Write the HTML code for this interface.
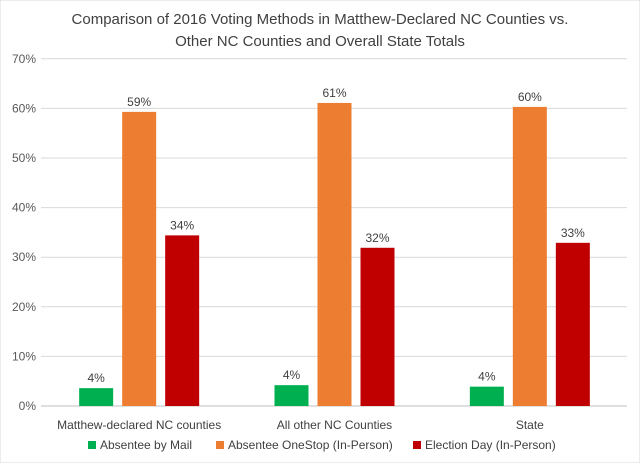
<!DOCTYPE html>
<html><head><meta charset="utf-8"><style>
body{margin:0;background:#fff}
svg text{font-family:"Liberation Sans",sans-serif}
</style></head><body>
<svg id="c" width="640" height="463" xmlns="http://www.w3.org/2000/svg">
<rect x="0" y="0" width="640" height="463" fill="#fff" stroke="#d9d9d9"/>
<text x="320" y="24" text-anchor="middle" font-size="15" fill="#404040">Comparison of 2016 Voting Methods in Matthew-Declared NC Counties vs.</text>
<text x="320" y="46" text-anchor="middle" font-size="15" fill="#404040">Other NC Counties and Overall State Totals</text>
<g id="grid"></g><g id="bars"></g><g id="labels"></g>
<g>
<rect x="88" y="441" width="8" height="8" fill="#00b050"/><text x="100" y="449" font-size="12" fill="#404040">Absentee by Mail</text>
<rect x="216" y="441" width="8" height="8" fill="#ed7d31"/><text x="228" y="449" font-size="12" fill="#404040">Absentee OneStop (In-Person)</text>
<rect x="413" y="441" width="8" height="8" fill="#c00000"/><text x="425" y="449" font-size="12" fill="#404040">Election Day (In-Person)</text>
</g>
</svg>
<script>
const categories=["Matthew-declared NC counties","All other NC Counties","State"];
const mail=[3.6,4.2,3.9];
const onestop=[59.3,61.1,60.3];
const electionDay=[34.4,31.9,32.9];
const ticks=[0,10,20,30,40,50,60,70];
const ns="http://www.w3.org/2000/svg";
const y0=406,pxPer=49.6/10,x0=41,x1=627;
const y=v=>y0-v*pxPer;
const gw=(x1-x0)/categories.length;
const cx=i=>x0+gw*(i+0.5)+0.5;
function mk(t,a,p){const e=document.createElementNS(ns,t);for(const k in a)e.setAttribute(k,a[k]);p.appendChild(e);return e;}
const G=document.getElementById('grid'),B=document.getElementById('bars'),L=document.getElementById('labels');
ticks.forEach(t=>{
 const l=mk('line',{x1:x0,x2:x1,y1:y(t),y2:y(t),stroke:t===0?'#bfbfbf':'#d9d9d9','stroke-width':1},G);
 
 
 const tx=mk('text',{x:36,y:y(t)+4,'text-anchor':'end','font-size':12,fill:'#595959'},G);tx.textContent=t+'%';
 
 
});
const series=[[mail,'#00b050','mail',-43],[onestop,'#ed7d31','onestop',0],[electionDay,'#c00000','election-day',43]];
categories.forEach((c,i)=>{
 series.forEach(([arr,col,nm,off])=>{
  const v=arr[i],bx=cx(i)+off-17;
  const r=mk('rect',{x:bx,y:y(v),width:34,height:y0-y(v),fill:col},B);
  
  
  const t=mk('text',{x:bx+17,y:y(v)-6,'text-anchor':'middle','font-size':12,fill:'#404040'},L);
  t.textContent=Math.round(v)+'%';
  
  
 });
 const ct=mk('text',{x:cx(i),y:429,'text-anchor':'middle','font-size':12,fill:'#404040'},L);
 ct.textContent=c;
 
 
});
</script>
</body></html>
